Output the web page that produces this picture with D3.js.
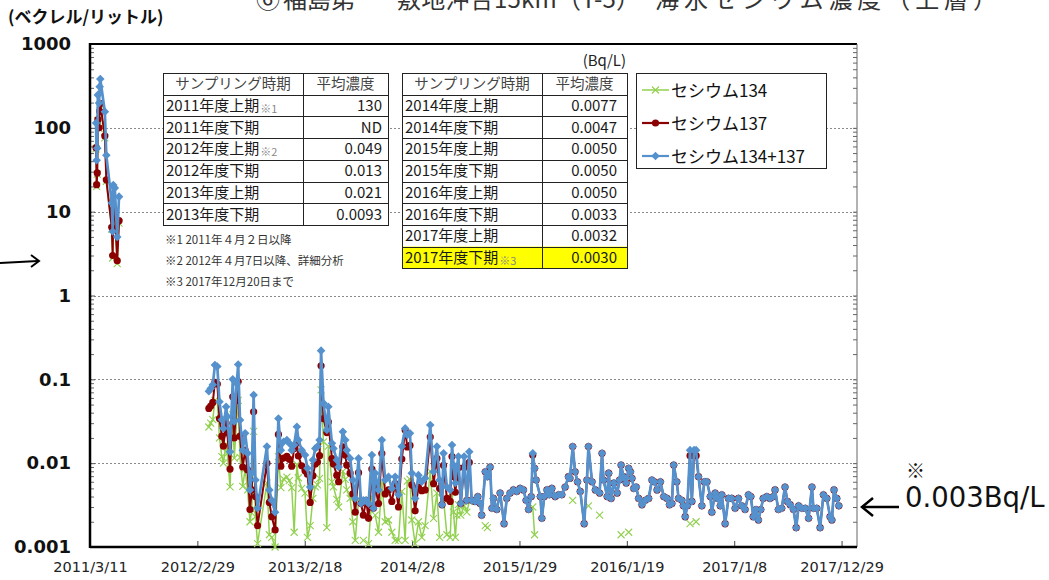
<!DOCTYPE html>
<html><head><meta charset="utf-8">
<script src="https://cdn.jsdelivr.net/npm/d3@7"></script>
<style>body{margin:0;background:#fff;}svg{display:block;}</style>
</head><body>
<svg id="c" width="1049" height="580"></svg>
<script>
// ---------------- DATA ----------------
const titleParts = ["⑥", "福島第一", "敷地沖合15km（T-5）", "海水セシウム濃度（上層）"];
const yUnitLabel = "(ベクレル/リットル)";
const seriesNames = ["セシウム134", "セシウム137", "セシウム134+137"];
const xDomain = ["2011-03-11", "2018-02-18"];
const xTickLabels = ["2011/3/11","2012/2/29","2013/2/18","2014/2/8","2015/1/29","2016/1/19","2017/1/8","2017/12/29"];
const yTickValues = [0.001, 0.01, 0.1, 1, 10, 100, 1000];
const yTickLabels = ["0.001","0.01","0.1","1","10","100","1000"];

const dates = [
 // 2011 (early)
 "2011-03-31","2011-04-02","2011-04-04","2011-04-06","2011-04-10","2011-04-12","2011-04-14","2011-04-29","2011-05-04","2011-05-22","2011-05-25","2011-05-27","2011-06-01","2011-06-09","2011-06-15",
 "2011-10-01",
 // 2012
 "2012-04-07","2012-04-13","2012-04-20","2012-04-27","2012-05-05","2012-05-12","2012-05-20","2012-05-25","2012-06-03","2012-06-07","2012-06-16","2012-06-25","2012-06-30","2012-07-08","2012-07-13","2012-07-19","2012-07-28","2012-08-05","2012-08-13","2012-08-21","2012-08-27","2012-09-02","2012-09-08","2012-09-15","2012-10-16","2012-10-24","2012-11-01","2012-11-12","2012-11-23","2012-12-01","2012-12-10","2012-12-21","2012-12-29",
 // 2013
 "2013-01-06","2013-01-14","2013-01-23","2013-01-28","2013-02-08","2013-02-19","2013-02-27","2013-03-08","2013-03-17","2013-03-25","2013-04-01","2013-04-08","2013-04-13","2013-04-21","2013-05-02","2013-05-07","2013-05-19","2013-05-24","2013-06-04","2013-06-10","2013-06-24","2013-07-02","2013-07-07","2013-07-18","2013-07-27","2013-08-04","2013-08-15","2013-08-23","2013-08-31","2013-09-09","2013-09-17","2013-09-28","2013-10-03","2013-10-09","2013-10-20","2013-10-31","2013-11-11","2013-11-22","2013-12-03","2013-12-14","2013-12-25",
 // 2014
 "2014-01-05","2014-01-16","2014-01-23","2014-02-01","2014-02-07","2014-02-18","2014-03-01","2014-03-12","2014-03-23","2014-04-09","2014-04-20","2014-05-01","2014-05-10","2014-05-18","2014-05-23","2014-06-03","2014-06-14","2014-06-20","2014-06-25","2014-07-01","2014-07-06","2014-07-11","2014-07-19","2014-07-30","2014-08-08","2014-08-16","2014-08-24","2014-09-04","2014-09-13","2014-09-21","2014-09-26","2014-10-08","2014-10-15","2014-10-24","2014-10-30","2014-11-04","2014-11-15","2014-11-26","2014-12-09","2014-12-18","2014-12-29",
 // 2015
 "2015-01-09","2015-01-20","2015-01-31","2015-02-11","2015-02-20","2015-02-28","2015-03-09","2015-03-14","2015-03-20","2015-03-25","2015-04-08","2015-04-13","2015-04-21","2015-04-30","2015-05-08","2015-05-16","2015-05-27","2015-06-07","2015-06-18","2015-06-29","2015-07-10","2015-07-15","2015-07-24","2015-08-01","2015-08-09","2015-08-18","2015-08-31","2015-09-09","2015-09-14","2015-09-26","2015-10-07","2015-10-21","2015-10-29","2015-11-03","2015-11-15","2015-11-20","2015-11-28","2015-12-07","2015-12-18","2015-12-26","2015-12-31",
 // 2016
 "2016-01-08","2016-01-17","2016-01-25","2016-01-31","2016-02-05","2016-02-11","2016-02-19","2016-02-27","2016-03-09","2016-03-20","2016-03-31","2016-04-11","2016-04-19","2016-04-28","2016-05-09","2016-05-20","2016-05-31","2016-06-08","2016-06-16","2016-06-22","2016-07-02","2016-07-08","2016-07-19","2016-07-24","2016-07-30","2016-08-06","2016-08-15","2016-08-21","2016-08-28","2016-09-04","2016-09-12","2016-09-23","2016-10-01","2016-10-10","2016-10-21","2016-10-26","2016-11-06","2016-11-14","2016-11-23","2016-11-28","2016-12-09","2016-12-20","2016-12-31",
 // 2017
 "2017-01-11","2017-01-22","2017-02-02","2017-02-13","2017-02-24","2017-03-04","2017-03-12","2017-03-21","2017-03-29","2017-04-06","2017-04-14","2017-04-26","2017-05-06","2017-05-17","2017-05-23","2017-06-03","2017-06-14","2017-06-25","2017-07-03","2017-07-12","2017-07-23","2017-08-01","2017-08-09","2017-08-20","2017-08-31","2017-09-11","2017-09-22","2017-09-27","2017-10-08","2017-10-19","2017-10-30","2017-11-10","2017-11-21","2017-11-27","2017-12-04","2017-12-13","2017-12-20"
];

const csSum = [
 114,41,57,247,198,310,383,156,47,12.7,5.8,20.8,19.2,5.0,15.1,
 null,
 .072,.078,.086,.148,.142,.054,.033,.026,.047,.036,.0137,.100,.0315,.089,.150,.0327,.0143,.0227,.0131,.0048,.0076,.065,.0063,.0029,.0158,.0048,.0036,.0026,.034,.0143,.018,.0189,.0173,
 .0143,.0165,.0272,.0189,.0143,.0125,.0087,.0052,.0109,.015,.0158,.0189,.22,.052,.0249,.047,.0173,.015,.0109,.009,.0237,.0189,.0143,.0114,.0063,.0038,.0114,.0033,.0036,.0036,.0033,.0125,.0029,.0076,.0048,.0189,.0063,.0069,.005,.0069,.0042,
 .0158,.026,.0217,.0227,.0076,.0038,.0072,.006,.0066,.0285,.0079,.0158,.0063,.0032,.0131,.0052,.0048,.0165,.0095,.0058,.009,.012,.0033,.012,.0036,.0137,.0036,.0035,.004,.0033,.0024,.0079,.0069,.009,.0029,.0038,.0028,.0044,.0019,.0038,.0044,
 .0048,.0046,.005,.0048,.0036,.0028,.004,.0131,.0087,.0063,.004,.0022,.004,.0048,.0042,.005,.004,.0042,.0042,.0052,.0069,.0066,.0158,.0079,.006,.0046,.0019,.0063,.0158,.006,.0048,.0044,.0131,.0063,.004,.0076,.0038,.0058,.0044,.0063,.0095,
 .0069,.0058,.0087,.0079,.0066,.005,.0052,.0038,.0032,.0036,.0038,.0063,.006,.0048,.006,.004,.0038,.0032,.0033,.0095,.006,.0038,.0036,.0031,.0023,.0031,.0143,.0035,.0143,.0143,.0069,.0031,.006,.006,.004,.0026,.0044,.0038,.0031,.0042,.0019,.0038,.0038,
 .0029,.0038,.0031,.0028,.0042,.004,.0023,.0028,.0021,.0028,.0038,.004,.0038,.004,.0048,.0028,.0029,.0052,.0035,.0032,.0028,.0017,.0031,.0029,.0029,.0022,.0052,.0029,.0029,.0017,.0042,.0038,.0023,.0021,.0048,.0038,.0031
];

const cs137 = [
 58,21,29,125,100,157,195,80,24,6.5,3.0,10.6,9.8,2.6,7.8,
 null,
 .045,.048,.053,.092,.088,.034,.021,.016,.030,.023,.0085,.062,.020,.056,.094,.021,.009,.0142,.0083,.0028,.0048,.041,.004,.0018,.010,.0034,.0023,.0016,.022,.0092,.0115,.0121,.0111,
 .0092,.015,.0175,.0122,.0093,.0081,.0074,.0034,.0071,.0098,.0103,.0123,.145,.034,.0232,.031,.0113,.0098,.0072,.006,.0157,.0125,.0095,.0076,.0043,.0026,.0077,.0033,.0024,.0036,.0022,.0085,.0029,.0052,.0033,.013,.0043,.0048,.0035,.0057,.003,
 .0112,.0248,.0156,.0163,.0055,.0027,.0052,.0047,.0048,.0205,.0057,.0114,.005,.0032,.0094,.0038,.0035,.012,.0069,.0045,.0066,.0088,.0033,.0089,.0036,.0102,.0036,.0035,.004,.0033,.0024,.0079,.0069,.009,.0029,.0038,.0028,.0044,.0019,.0038,.0044,
 .0048,.0046,.005,.0048,.0036,.0028,.004,.0125,.0087,.0063,.004,.0022,.004,.0048,.0042,.005,.004,.0042,.0042,.0052,.0069,.0066,.0158,.0079,.006,.0046,.0019,.0063,.0158,.006,.0048,.0044,.0131,.0063,.004,.0076,.0038,.0058,.0044,.0063,.0095,
 .0069,.0058,.0087,.0079,.0066,.005,.0052,.0038,.0032,.0036,.0038,.0063,.006,.0048,.006,.004,.0038,.0032,.0033,.0095,.006,.0038,.0036,.0031,.0023,.0031,.0123,.0035,.0123,.0123,.0069,.0031,.006,.006,.004,.0026,.0044,.0038,.0031,.0042,.0019,.0038,.0038,
 .0029,.0038,.0031,.0028,.0042,.004,.0023,.0028,.0021,.0028,.0038,.004,.0038,.004,.0048,.0028,.0029,.0052,.0035,.0032,.0028,.0017,.0031,.0029,.0029,.0022,.0052,.0029,.0029,.0017,.0042,.0038,.0023,.0021,.0048,.0038,.0031
];

const cs134 = [
 56,20,28,122,98,153,188,76,23,6.2,2.8,10.2,9.4,2.4,7.3,
 null,
 .027,.030,.033,.056,.054,.020,.012,.010,.017,.013,.0052,.038,.0115,.033,.056,.0117,.0053,.0085,.0048,.002,.0028,.024,.0023,.0011,.0058,.0014,.0013,.001,.012,.0051,.0065,.0068,.0062,
 .0051,.0015,.0097,.0067,.005,.0044,.0013,.0018,.0038,.0052,.0055,.0066,.075,.018,.0017,.016,.006,.0052,.0037,.003,.008,.0064,.0048,.0038,.002,.0012,.0037,null,.0012,null,.0011,.004,null,.0024,.0015,.0059,.002,.0021,.0015,.0012,.0012,
 .0046,.0012,.0061,.0064,.0021,.0011,.002,.0013,.0018,.008,.0022,.0044,.0013,null,.0037,.0014,.0013,.0045,.0026,.0013,.0024,.0032,.0024,.0031,.0026,.0035,null,null,null,null,null,.0018,.0017,null,null,null,null,null,null,null,null,
 null,null,null,null,null,null,null,.003,.0014,null,null,null,null,null,null,null,null,null,null,null,null,null,.0036,null,null,null,null,null,.0031,null,null,.0024,null,null,null,null,null,null,null,null,.0014,
 null,null,.0015,null,null,null,null,null,null,null,null,null,null,null,null,null,null,null,null,null,null,null,null,null,null,null,.0019,null,null,.002,null,null,null,null,null,null,null,null,null,null,null,null,null,
 null,null,null,null,null,null,null,null,null,null,null,null,null,null,null,null,null,null,null,null,null,null,null,null,null,null,null,null,null,null,null,null,null,null,null,null,null
];

const tableHeaders = ["サンプリング時期", "平均濃度"];
const table1Periods = ["2011年度上期","2011年度下期","2012年度上期","2012年度下期","2013年度上期","2013年度下期"];
const table1Marks   = ["※1","","※2","","",""];
const table1Values  = ["130","ND","0.049","0.013","0.021","0.0093"];
const table2Periods = ["2014年度上期","2014年度下期","2015年度上期","2015年度下期","2016年度上期","2016年度下期","2017年度上期","2017年度下期"];
const table2Marks   = ["","","","","","","","※3"];
const table2Values  = ["0.0077","0.0047","0.0050","0.0050","0.0050","0.0033","0.0032","0.0030"];
const unitNote = "(Bq/L)";
const footnotes = ["※1  2011年４月２日以降", "※2  2012年４月7日以降、詳細分析", "※3  2017年12月20日まで"];
const latestNote = ["※", "0.003Bq/L"];

// ---------------- CHART ----------------
const JP = "'Noto Sans CJK JP', sans-serif";
const svg = d3.select("#c");
const X0 = 90, X1 = 857, Y0 = 44, Y1 = 547;
const parse = d3.utcParse("%Y-%m-%d");
const parseTick = d3.utcParse("%Y/%m/%d");
const x = d3.scaleUtc().domain(xDomain.map(parse)).range([X0, X1]);
const y = d3.scaleLog().domain([0.001, 1000]).range([Y1, Y0]);

svg.append("rect").attr("width", 1049).attr("height", 580).attr("fill", "#fff");

// title (cut at top as in the reference)
const titleX = [256, 283, 397, 655];
titleParts.forEach((t, i) => {
  const el = svg.append("text").attr("x", titleX[i]).attr("y", 8).attr("font-family", JP).attr("font-size", 24)
    .attr("fill", "#333").text(t);
  if (i === 2) el.attr("textLength", 243);
  if (i === 3) el.attr("textLength", 342);
});

// unit label
svg.append("text").attr("x", 8).attr("y", 23).attr("font-family", JP).attr("font-size", 17)
  .attr("font-weight", "bold").attr("fill", "#111").text(yUnitLabel);

// gridlines
svg.append("g").selectAll("line").data(yTickValues.slice(1, -1)).join("line")
  .attr("x1", X0).attr("x2", X1)
  .attr("y1", d => Math.round(y(d)) + 0.5).attr("y2", d => Math.round(y(d)) + 0.5)
  .attr("stroke", "#8a8a8a").attr("stroke-width", 1).attr("stroke-dasharray", "2,2");

// axes
const yAxis = d3.axisLeft(y).tickValues(yTickValues).tickFormat((d, i) => yTickLabels[i])
  .tickSizeInner(-5).tickSizeOuter(0).tickPadding(19);
const gy = svg.append("g").attr("transform", `translate(${X0},0)`).call(yAxis);
gy.select(".domain").remove();
gy.selectAll("line").attr("stroke", "#555");
gy.selectAll("text").attr("font-family", "'DejaVu Sans', sans-serif").attr("font-size", 18)
  .attr("font-weight", "bold").attr("fill", "#111");

const minorVals = y.ticks().filter(v => !yTickValues.includes(v));
const gm = svg.append("g").attr("transform", `translate(${X0},0)`)
  .call(d3.axisLeft(y).tickValues(minorVals).tickFormat("").tickSizeInner(-4).tickSizeOuter(0));
gm.select(".domain").remove(); gm.selectAll("line").attr("stroke", "#666");
const gr = svg.append("g").attr("transform", `translate(${X1},0)`)
  .call(d3.axisRight(y).tickValues(y.ticks()).tickFormat("").tickSizeInner(-4).tickSizeOuter(0));
gr.select(".domain").remove(); gr.selectAll("line").attr("stroke", "#666");

const xTicks = xTickLabels.map(parseTick);
const xAxis = d3.axisBottom(x).tickValues(xTicks).tickFormat((d, i) => xTickLabels[i])
  .tickSizeInner(-6).tickSizeOuter(0).tickPadding(15);
const gx = svg.append("g").attr("transform", `translate(0,${Y1})`).call(xAxis);
gx.select(".domain").remove();
gx.selectAll("line").attr("stroke", "#444");
gx.selectAll("text").attr("font-family", "'DejaVu Sans', sans-serif").attr("font-size", 14.5).attr("fill", "#222");

// frame
svg.append("line").attr("x1", X0).attr("x2", X1).attr("y1", Y0).attr("y2", Y0).attr("stroke", "#000").attr("stroke-width", 2);
svg.append("line").attr("x1", X1).attr("x2", X1).attr("y1", Y0).attr("y2", Y1).attr("stroke", "#666").attr("stroke-width", 1);
svg.append("line").attr("x1", X0).attr("x2", X0).attr("y1", Y0 - 1).attr("y2", Y1 + 1).attr("stroke", "#000").attr("stroke-width", 2.5);
svg.append("line").attr("x1", X0).attr("x2", X1).attr("y1", Y1).attr("y2", Y1).attr("stroke", "#000").attr("stroke-width", 2.5);

// series
const rows = dates.map((d, i) => ({ t: parse(d), c134: cs134[i], c137: cs137[i], sum: csSum[i] }));
const plot = svg.append("g");
const COL134 = "#92d050", COL137 = "#8b0000", COLSUM = "#5591cd";

function drawSeries(key, color, width) {
  const line = d3.line().defined(d => d[key] != null).x(d => x(d.t)).y(d => y(d[key]));
  plot.append("path").datum(rows).attr("d", line).attr("fill", "none")
    .attr("stroke", color).attr("stroke-width", width).attr("stroke-linejoin", "round");
  return rows.filter(d => d[key] != null);
}
// Cs134
let pts = drawSeries("c134", COL134, 1.5);
plot.append("g").selectAll("path").data(pts).join("path")
  .attr("transform", d => `translate(${x(d.t)},${y(d.c134)})`)
  .attr("d", "M-3.5,-3.5L3.5,3.5M-3.5,3.5L3.5,-3.5").attr("stroke", COL134).attr("stroke-width", 1.1).attr("fill", "none");
// Cs137
pts = drawSeries("c137", COL137, 2);
plot.append("g").selectAll("circle").data(pts).join("circle")
  .attr("cx", d => x(d.t)).attr("cy", d => y(d.c137)).attr("r", 3.6).attr("fill", COL137);
// Sum
pts = drawSeries("sum", COLSUM, 2.7);
plot.append("g").selectAll("path").data(pts).join("path")
  .attr("transform", d => `translate(${x(d.t)},${y(d.sum)})`)
  .attr("d", "M0,-4.3L4.3,0L0,4.3L-4.3,0Z").attr("fill", COLSUM);

// tables
function drawTable(x0, w1, w2, y0, rh, periods, marks, values, valuePad, highlightLast) {
  const g = svg.append("g");
  const n = periods.length + 1;
  g.append("rect").attr("x", x0).attr("y", y0).attr("width", w1 + w2).attr("height", n * rh).attr("fill", "#fff");
  if (highlightLast) {
    g.append("rect").attr("x", x0).attr("y", y0 + (n - 1) * rh).attr("width", w1 + w2).attr("height", rh).attr("fill", "#ffff00");
  }
  for (let i = 0; i <= n; i++) {
    g.append("line").attr("x1", x0).attr("x2", x0 + w1 + w2)
      .attr("y1", Math.round(y0 + i * rh) + 0.5).attr("y2", Math.round(y0 + i * rh) + 0.5)
      .attr("stroke", "#222").attr("stroke-width", 1);
  }
  [x0, x0 + w1, x0 + w1 + w2].forEach(xx => g.append("line").attr("x1", xx + 0.5).attr("x2", xx + 0.5)
    .attr("y1", y0).attr("y2", Math.round(y0 + n * rh) + 1).attr("stroke", "#222").attr("stroke-width", 1));
  const cy = i => y0 + i * rh + rh / 2 + 5.5;
  g.append("text").attr("x", x0 + w1 / 2).attr("y", cy(0)).attr("text-anchor", "middle")
    .attr("font-family", JP).attr("font-size", 14.5).attr("fill", "#444").text(tableHeaders[0]);
  g.append("text").attr("x", x0 + w1 + w2 / 2).attr("y", cy(0)).attr("text-anchor", "middle")
    .attr("font-family", JP).attr("font-size", 14.5).attr("fill", "#444").text(tableHeaders[1]);
  periods.forEach((p, i) => {
    const t = g.append("text").attr("x", x0 + 3).attr("y", cy(i + 1)).attr("font-family", JP)
      .attr("font-size", 15).attr("fill", "#1a1a1a");
    t.append("tspan").text(p);
    if (marks[i]) t.append("tspan").attr("font-size", 11).attr("fill", "#888").attr("dy", 2).attr("dx", 1).text(marks[i]);
    g.append("text").attr("x", x0 + w1 + w2 - valuePad).attr("y", cy(i + 1)).attr("text-anchor", "end")
      .attr("font-family", JP).attr("font-size", 15).attr("fill", "#1a1a1a").text(values[i]);
  });
}
drawTable(163, 140, 85, 73, 21.7, table1Periods, table1Marks, table1Values, 6, false);
drawTable(402, 140, 85, 73, 21.7, table2Periods, table2Marks, table2Values, 10, true);

svg.append("text").attr("x", 626).attr("y", 66).attr("text-anchor", "end").attr("font-family", JP)
  .attr("font-size", 15).attr("fill", "#222").text(unitNote);

footnotes.forEach((f, i) => {
  svg.append("text").attr("x", 165).attr("y", 244 + i * 21).attr("font-family", JP).attr("font-size", 11.5)
    .attr("fill", "#333").text(f);
});

// legend
const lg = svg.append("g");
lg.append("rect").attr("x", 636.5).attr("y", 73.5).attr("width", 190).attr("height", 95)
  .attr("fill", "#fff").attr("stroke", "#222").attr("stroke-width", 1);
const legendItems = [
  { name: seriesNames[0], color: COL134, type: "x" },
  { name: seriesNames[1], color: COL137, type: "o" },
  { name: seriesNames[2], color: COLSUM, type: "d" }
];
legendItems.forEach((it, i) => {
  const cy = 90 + i * 33;
  lg.append("line").attr("x1", 642).attr("x2", 669).attr("y1", cy).attr("y2", cy).attr("stroke", it.color)
    .attr("stroke-width", it.type === "x" ? 1.5 : 2.2);
  if (it.type === "x") lg.append("path").attr("transform", `translate(655.5,${cy})`).attr("d", "M-3.5,-3.5L3.5,3.5M-3.5,3.5L3.5,-3.5").attr("stroke", it.color).attr("stroke-width", 1.1);
  if (it.type === "o") lg.append("circle").attr("cx", 655.5).attr("cy", cy).attr("r", 3.6).attr("fill", it.color);
  if (it.type === "d") lg.append("path").attr("transform", `translate(655.5,${cy})`).attr("d", "M0,-4.3L4.3,0L0,4.3L-4.3,0Z").attr("fill", it.color);
  lg.append("text").attr("x", 671).attr("y", cy + 6.5).attr("font-family", JP).attr("font-size", 17)
    .attr("fill", "#111").text(it.name);
});

// right annotation
svg.append("text").attr("x", 906).attr("y", 478).attr("font-family", JP).attr("font-size", 19).attr("fill", "#111").text(latestNote[0]);
svg.append("text").attr("x", 905).attr("y", 507).attr("font-family", "'DejaVu Sans', sans-serif").attr("font-size", 27.5).attr("fill", "#111").text(latestNote[1]);
svg.append("line").attr("x1", 862).attr("x2", 899).attr("y1", 507).attr("y2", 507).attr("stroke", "#000").attr("stroke-width", 2.5);
svg.append("path").attr("d", "M873,498L862,507L873,516").attr("fill", "none").attr("stroke", "#000").attr("stroke-width", 2.5);

// left arrow
svg.append("line").attr("x1", 0).attr("x2", 38).attr("y1", 263).attr("y2", 261).attr("stroke", "#000").attr("stroke-width", 2);
svg.append("path").attr("d", "M31,255L39,261L31,267").attr("fill", "none").attr("stroke", "#000").attr("stroke-width", 2);
</script>
</body></html>
